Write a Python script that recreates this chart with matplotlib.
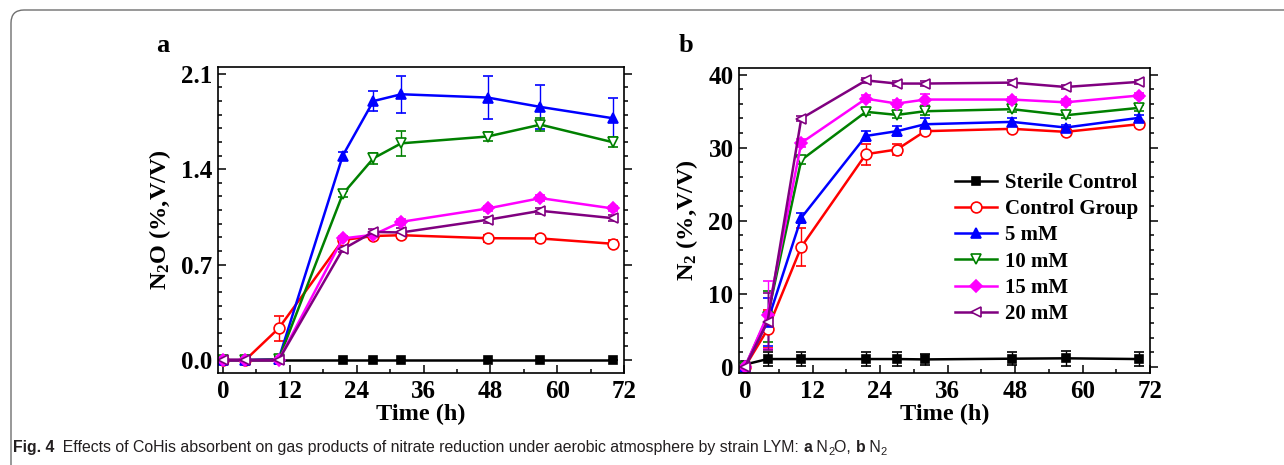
import matplotlib
matplotlib.use("Agg")
import matplotlib.pyplot as plt
from matplotlib.patches import FancyBboxPatch
from matplotlib.ticker import MultipleLocator, FormatStrFormatter

# ---------------- data ----------------
time_h = [0, 4, 10, 21.5, 27, 32, 47.5, 57, 70]
series_names = ["Sterile Control", "Control Group", "5 mM", "10 mM", "15 mM", "20 mM"]

# Panel a: N2O (%, V/V)
n2o_sterile = [0, 0, 0, 0, 0, 0, 0, 0, 0]
n2o_control = [0, 0, 0.233, 0.88, 0.91, 0.916, 0.894, 0.892, 0.853]
n2o_5mM = [0, 0, 0.007, 1.50, 1.90, 1.95, 1.926, 1.857, 1.774]
n2o_10mM = [0, 0, 0.005, 1.218, 1.48, 1.59, 1.64, 1.727, 1.598]
n2o_15mM = [0, 0, 0, 0.892, 0.919, 1.014, 1.112, 1.188, 1.112]
n2o_20mM = [0, 0, 0, 0.813, 0.94, 0.936, 1.029, 1.095, 1.041]

n2o_sterile_err = [0, 0, 0, 0, 0, 0, 0, 0, 0]
n2o_control_err = [0, 0, 0.09, 0.02, 0.02, 0.02, 0.025, 0.025, 0.025]
n2o_5mM_err = [0, 0, 0, 0.03, 0.073, 0.137, 0.16, 0.16, 0.147]
n2o_10mM_err = [0, 0, 0, 0.02, 0.04, 0.09, 0.03, 0.047, 0.035]
n2o_15mM_err = [0, 0, 0, 0.02, 0.02, 0.02, 0.02, 0.02, 0.02]
n2o_20mM_err = [0, 0, 0, 0.02, 0.02, 0.03, 0.02, 0.02, 0.02]

# Panel b: N2 (%, V/V)
n2_sterile = [0.3, 1.05, 1.05, 1.05, 1.05, 1.0, 1.1, 1.15, 1.05]
n2_control = [0, 5.1, 16.4, 29.1, 29.74, 32.25, 32.57, 32.16, 33.2]
n2_5mM = [0, 6.16, 20.39, 31.6, 32.25, 33.2, 33.52, 32.75, 34.07]
n2_10mM = [0, 6.84, 28.3, 34.9, 34.48, 34.98, 35.26, 34.43, 35.44]
n2_15mM = [0, 7.07, 30.65, 36.7, 36.03, 36.58, 36.58, 36.2, 37.13]
n2_20mM = [0, 6.16, 33.98, 39.2, 38.77, 38.77, 38.9, 38.3, 39.0]

n2_sterile_err = [0.3, 0.9, 0.9, 0.9, 0.9, 0.8, 0.9, 1.0, 0.9]
n2_control_err = [0, 2.6, 2.55, 1.45, 0.8, 0.4, 0.4, 0.4, 0.4]
n2_5mM_err = [0, 3.3, 0.7, 0.7, 0.7, 0.8, 0.5, 0.4, 0.4]
n2_10mM_err = [0, 3.5, 0.6, 0.4, 0.4, 0.5, 0.4, 0.4, 0.4]
n2_15mM_err = [0, 4.6, 0.5, 0.5, 0.5, 0.8, 0.4, 0.4, 0.4]
n2_20mM_err = [0, 3.9, 0.3, 0.3, 0.3, 0.3, 0.3, 0.3, 0.3]

# ---------------- styles ----------------
colors = ["#000000", "#ff0000", "#0000ff", "#008000", "#ff00ff", "#800080"]
markers = ["s", "o", "^", "v", "D", "<"]
filled = [True, False, True, False, True, False]

plt.rcParams["font.family"] = ["Liberation Serif", "DejaVu Serif"]
plt.rcParams["font.weight"] = "bold"
plt.rcParams["mathtext.fontset"] = "custom"
plt.rcParams["mathtext.rm"] = "Liberation Serif:bold"
plt.rcParams["mathtext.it"] = "Liberation Serif:bold"
plt.rcParams["mathtext.bf"] = "Liberation Serif:bold"

W, H = 1284, 465
fig = plt.figure(figsize=(W / 100, H / 100), dpi=100)

ax_a = fig.add_axes([218 / W, 1 - 373 / H, (624 - 218) / W, (373 - 67) / H])
ax_b = fig.add_axes([739 / W, 1 - 373 / H, (1150 - 739) / W, (373 - 68) / H])


def draw(ax, ys, errs):
    handles = []
    for name, y, e, c, m, f in zip(series_names, ys, errs, colors, markers, filled):
        ms = {"s": 6.3, "D": 6.3}.get(m, 7.8)
        h = ax.errorbar(time_h, y, yerr=e, color=c, marker=m, ms=ms, lw=1.8,
                        mfc=c if f else "white", mec=c, mew=1.2,
                        ecolor=c, elinewidth=1.0, capsize=3.5, capthick=1.0,
                        label=name)
        handles.append(h[0])
    return handles


draw(ax_a, [n2o_sterile, n2o_control, n2o_5mM, n2o_10mM, n2o_15mM, n2o_20mM],
     [n2o_sterile_err, n2o_control_err, n2o_5mM_err, n2o_10mM_err, n2o_15mM_err, n2o_20mM_err])
hb = draw(ax_b, [n2_sterile, n2_control, n2_5mM, n2_10mM, n2_15mM, n2_20mM],
          [n2_sterile_err, n2_control_err, n2_5mM_err, n2_10mM_err, n2_15mM_err, n2_20mM_err])


def style(ax, xlim, ylim, ymaj, ymin, ylabel, yfmt):
    ax.set_xlim(*xlim)
    ax.set_ylim(*ylim)
    ax.xaxis.set_major_locator(MultipleLocator(12))
    ax.xaxis.set_minor_locator(MultipleLocator(6))
    ax.yaxis.set_major_locator(MultipleLocator(ymaj))
    ax.yaxis.set_minor_locator(MultipleLocator(ymin))
    ax.yaxis.set_major_formatter(FormatStrFormatter(yfmt))
    ax.tick_params(which="both", direction="in", top=False, right=False,
                   labelsize=18, width=1.1)
    ax.tick_params(which="major", length=6, pad=4)
    ax.tick_params(which="minor", length=3)
    ax.tick_params(axis="x", pad=5)
    for s in ax.spines.values():
        s.set_linewidth(1.2)
    for lab in ax.get_xticklabels() + ax.get_yticklabels():
        lab.set_fontweight("bold")
    ax.set_xlabel("Time (h)", fontsize=17.5, fontweight="bold", labelpad=1)
    ax.set_ylabel(ylabel, fontsize=17.5, fontweight="bold", labelpad=6)
    # right side ticks pointing outward
    tw = ax.twinx()
    tw.set_ylim(*ylim)
    tw.yaxis.set_major_locator(MultipleLocator(ymaj))
    tw.yaxis.set_minor_locator(MultipleLocator(ymin))
    tw.tick_params(which="both", direction="out", labelright=False, width=1.1)
    tw.tick_params(which="major", length=6)
    tw.tick_params(which="minor", length=3)
    for s in tw.spines.values():
        s.set_visible(False)


style(ax_a, (-0.9, 72), (-0.095, 2.15), 0.7, 0.1, "N$_{2}$O (%,V/V)", "%.1f")
style(ax_b, (-1.07, 72), (-0.86, 40.9), 10, 2, "N$_{2}$ (%,V/V)", "%d")

ax_b.legend(handles=hb, labels=series_names, loc="upper left", bbox_to_anchor=(0.5, 0.69),
            frameon=False,
            prop={"family": "Liberation Serif", "weight": "bold", "size": 15},
            handlelength=2.0, handletextpad=0.4, labelspacing=0.3, borderpad=0)

fig.text(163 / W, 1 - 45 / H, "a", fontsize=19, fontweight="bold", ha="center", va="center")
fig.text(686 / W, 1 - 45 / H, "b", fontsize=19, fontweight="bold", ha="center", va="center")

# border
border = FancyBboxPatch((0.11, -0.3), 13.5, 4.85, boxstyle="round,pad=0,rounding_size=0.13",
                        transform=fig.dpi_scale_trans, fill=False, ec="#6f6f6f", lw=1.0)
fig.patches.append(border)

# caption
cap_font = ["Liberation Sans", "DejaVu Sans"]
cap_pieces = [
    ("Fig. 4", "bold", 11.4, 0),
    ("  Effects of CoHis absorbent on gas products of nitrate reduction under aerobic atmosphere by strain LYM: ", "normal", 11.4, 0),
    ("a", "bold", 11.4, 0),
    (" N", "normal", 11.4, 0),
    ("2", "normal", 8.0, -3),
    ("O, ", "normal", 11.4, 0),
    ("b", "bold", 11.4, 0),
    (" N", "normal", 11.4, 0),
    ("2", "normal", 8.0, -3),
]
fig.canvas.draw()
renderer = fig.canvas.get_renderer()
xpix = 13
base = 465 - 452
for txt, wgt, sz, dy in cap_pieces:
    t = fig.text(xpix / W, (base + dy) / H, txt, family=cap_font, fontweight=wgt, fontsize=sz,
                 color="#231f20", ha="left", va="baseline")
    bb = t.get_window_extent(renderer)
    xpix += bb.width

fig.savefig("out.png", dpi=100)
